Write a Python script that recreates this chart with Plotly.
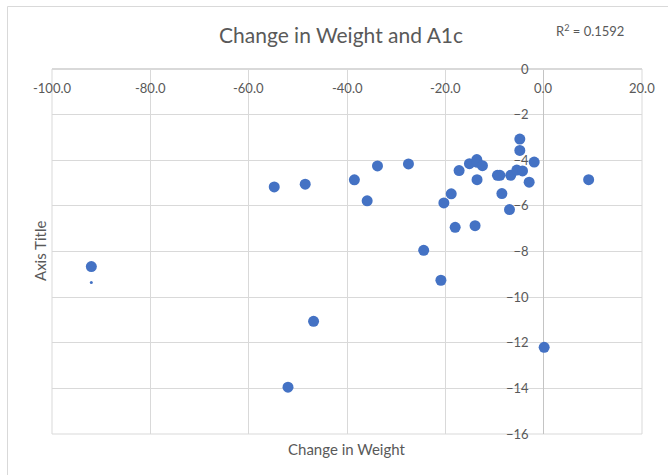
import plotly.graph_objects as go

# ---- data ----
weight_change = [-92.0, -54.8, -48.5, -38.5, -35.9, -33.8, -27.5, -24.4, -20.9, -46.8,
                 -52.0, 0.1, -20.3, -18.8, -18.0, -17.2, -15.1, -13.6, -13.5, -12.45,
                 -13.55, -13.95, -9.4, -8.9, -8.5, -6.7, -6.95, -5.46, -4.85, -4.85,
                 -4.3, -2.95, -1.93, 9.15]
a1c_change = [-8.66, -5.17, -5.05, -4.86, -5.78, -4.25, -4.16, -7.95, -9.26, -11.06,
              -13.95, -12.2, -5.87, -5.47, -6.94, -4.45, -4.15, -3.97, -4.09, -4.24,
              -4.85, -6.87, -4.66, -4.66, -5.46, -4.66, -6.16, -4.43, -3.07, -3.57,
              -4.47, -4.96, -4.08, -4.85]
small_x = [-92.0]
small_y = [-9.36]

x_ticks = [-100, -80, -60, -40, -20, 0, 20]
x_tick_labels = ["-100.0", "-80.0", "-60.0", "-40.0", "-20.0", "0.0", "20.0"]
y_ticks = [0, -2, -4, -6, -8, -10, -12, -14, -16]

title_text = "Change in Weight and A1c"
r2_text = "R<sup>2</sup> = 0.1592"
x_title = "Change in Weight"
y_title = "Axis Title"

# ---- layout geometry ----
W, H = 668, 475
L, R, T, B = 52, 668 - 642, 69, 475 - 434
pw, ph = W - L - R, H - T - B
xmin, xmax = -100, 20
ymin, ymax = -16, 0

FONT = "Lato"
TXT = "#595959"
GRID = "#d9d9d9"
BLUE = "#4472C4"

def px_x(p):
    return (p - L) / pw

def px_y(p):
    return (H - B - p) / ph

fig = go.Figure()
fig.add_trace(go.Scatter(x=weight_change, y=a1c_change, mode="markers",
                         marker=dict(color=BLUE, size=11, line=dict(width=0)),
                         showlegend=False, hoverinfo="x+y"))
fig.add_trace(go.Scatter(x=small_x, y=small_y, mode="markers",
                         marker=dict(color=BLUE, size=3, line=dict(width=0)),
                         showlegend=False, hoverinfo="x+y"))

annotations = [
    dict(text=title_text, xref="paper", yref="paper", x=px_x(341), y=px_y(35),
         xanchor="center", yanchor="middle", showarrow=False,
         font=dict(size=21, color=TXT, family=FONT)),
    dict(text=r2_text, xref="paper", yref="paper", x=px_x(590), y=px_y(31),
         xanchor="center", yanchor="middle", showarrow=False,
         font=dict(size=13, color=TXT, family=FONT)),
    dict(text=x_title, xref="paper", yref="paper", x=0.5, y=px_y(449),
         xanchor="center", yanchor="middle", showarrow=False,
         font=dict(size=15, color=TXT, family=FONT)),
    dict(text=y_title, xref="paper", yref="paper", x=px_x(40), y=px_y(251),
         xanchor="center", yanchor="middle", showarrow=False, textangle=-90,
         font=dict(size=15, color=TXT, family=FONT)),
]
# x tick labels sit just below the x axis (which crosses at y = 0, the top)
for xv, lab in zip(x_ticks, x_tick_labels):
    annotations.append(dict(text=lab, xref="x", yref="paper", x=xv, y=px_y(88),
                            xanchor="center", yanchor="middle", showarrow=False,
                            font=dict(size=13, color=TXT, family=FONT)))

fig.update_layout(
    width=W, height=H,
    margin=dict(l=L, r=R, t=T, b=B),
    paper_bgcolor="white", plot_bgcolor="white",
    font=dict(family=FONT, color=TXT),
    xaxis=dict(range=[xmin, xmax], tickvals=x_ticks, showticklabels=False,
               showgrid=True, gridcolor=GRID, gridwidth=1,
               zeroline=True, zerolinecolor="#c4c4c4", zerolinewidth=1,
               showline=False, ticks="", fixedrange=True),
    yaxis=dict(range=[ymin, ymax], tickvals=y_ticks, anchor="free",
               position=(0 - xmin) / (xmax - xmin), side="left",
               ticklabelstandoff=15, ticklabeloverflow="allow",
               tickfont=dict(size=13, color=TXT), showgrid=True, gridcolor=GRID,
               gridwidth=1, zeroline=True, zerolinecolor=GRID, showline=False,
               ticks="", fixedrange=True),
    shapes=[
        dict(type="rect", xref="paper", yref="paper", x0=0, x1=1, y0=0, y1=1,
             line=dict(color=GRID, width=1), fillcolor="rgba(0,0,0,0)", layer="below"),
        dict(type="rect", xref="paper", yref="paper", x0=px_x(7.5), x1=px_x(700),
             y0=px_y(520), y1=px_y(6.5),
             line=dict(color="#d9d9d9", width=1), fillcolor="rgba(0,0,0,0)", layer="below"),
    ],
    annotations=annotations,
)

fig.write_html("out.html")
